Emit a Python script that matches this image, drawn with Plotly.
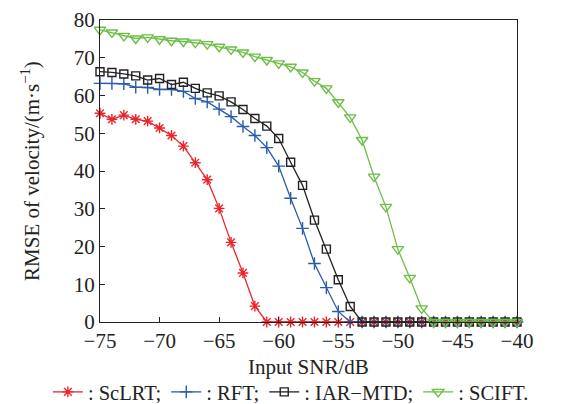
import plotly.graph_objects as go

snr = list(range(-75, -39))

sclrt = [55.3, 53.7, 54.8, 53.7, 53.2, 51.4, 49.4, 46.6, 42.2, 37.7,
         30.1, 21.1, 13.0, 4.2, 0, 0, 0, 0, 0, 0,
         0, 0, 0, 0, 0, 0, 0, 0, 0, 0,
         0, 0, 0, 0, 0, 0]
rft = [63.2, 63.2, 63.1, 62.2, 62.1, 61.6, 61.6, 61.1, 59.2, 58.3,
       56.4, 54.4, 51.8, 49.4, 46.2, 41.3, 32.8, 24.8, 15.5, 9.1,
       2.8, 0, 0, 0, 0, 0, 0, 0, 0, 0,
       0, 0, 0, 0, 0, 0]
iar_mtd = [66.3, 66.1, 65.7, 65.2, 64.1, 64.5, 62.9, 63.5, 61.9, 60.7,
           59.9, 58.3, 56.3, 53.9, 51.9, 48.6, 42.3, 36.2, 27.0, 19.3,
           11.2, 4.1, 0, 0, 0, 0, 0, 0, 0, 0,
           0, 0, 0, 0, 0, 0]
scift = [77.4, 76.7, 75.8, 75.1, 75.4, 74.9, 74.5, 74.3, 74.0, 73.6,
         72.9, 72.2, 71.4, 70.3, 69.4, 68.5, 67.6, 66.1, 63.8, 61.9,
         58.2, 54.2, 48.2, 38.5, 30.5, 19.3, 11.7, 3.6, 0, 0,
         0, 0, 0, 0, 0, 0]

series = [
    (": ScLRT;", sclrt, "#e8262b", "asterisk-open", 9),
    (": RFT;", rft, "#2a5caa", "cross-thin-open", 9),
    (": IAR\u2212MTD;", iar_mtd, "#222222", "square-open", 8),
    (": SCIFT.", scift, "#6cbe45", "triangle-down-open", 10),
]

fig = go.Figure()
for name, vals, color, sym, size in series:
    fig.add_trace(go.Scatter(
        x=snr, y=vals, name=name, mode="lines+markers",
        line=dict(color=color, width=1.3),
        marker=dict(symbol=sym, size=size, color=color,
                    line=dict(color=color, width=1.4)),
        cliponaxis=False,
    ))

serif = "Liberation Serif, Times New Roman, serif"
font = dict(family=serif, size=21, color="#222")
legend_font = dict(family=serif, size=20.5, color="#222")

# page body adds 8px offset, margins are compensated for it
fig.update_layout(
    width=566, height=404,
    margin=dict(l=92, r=57, t=12, b=90, autoexpand=False),
    paper_bgcolor="white", plot_bgcolor="white",
    font=font,
    showlegend=True,
    legend=dict(orientation="h", x=-0.125, xanchor="left", y=-0.232, yanchor="middle",
                font=legend_font, itemwidth=30, tracegroupgap=0,
                bgcolor="rgba(0,0,0,0)", borderwidth=0),
)
fig.update_xaxes(
    range=[-75, -40], dtick=5, showgrid=False, zeroline=False,
    showline=True, linecolor="#222", linewidth=1.3, mirror=True,
    ticks="inside", ticklen=5, tickcolor="#222",
)
fig.update_yaxes(
    range=[0, 80], dtick=10, showgrid=False, zeroline=False,
    showline=True, linecolor="#222", linewidth=1.3, mirror=True,
    ticks="inside", ticklen=5, tickcolor="#222",
)
fig.add_annotation(text="Input SNR/dB", xref="paper", yref="paper",
                   x=0.5, y=-0.149, xanchor="center", yanchor="middle",
                   showarrow=False, font=font)
fig.add_annotation(text="RMSE of velocity/(m·s<sup>\u22121</sup>)", xref="paper", yref="paper",
                   x=-0.168, y=0.5, xanchor="center", yanchor="middle", textangle=-90,
                   showarrow=False, font=font)

fig.write_html("out.html")
